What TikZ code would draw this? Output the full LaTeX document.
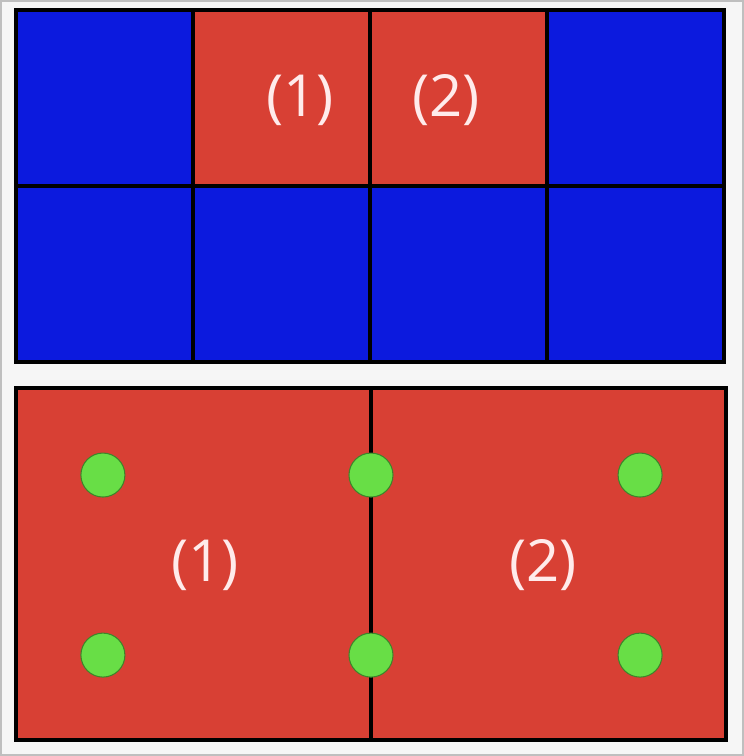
\documentclass[tikz,border=0pt]{standalone}
\usepackage{fontspec}
\setmainfont{Open Sans}
\definecolor{cellblue}{RGB}{12,26,222}
\definecolor{cellred}{RGB}{216,64,52}
\definecolor{dotgreen}{RGB}{104,222,70}
\definecolor{paper}{RGB}{246,246,246}
\begin{document}
\begin{tikzpicture}[x=0.02cm, y=-0.02cm,
			cell/.style = {draw=black, line width=2.2pt, inner sep=0pt,
				minimum width=3.54cm, minimum height=3.52cm},
			bigcell/.style = {cell, minimum width=7.1cm, minimum height=7.04cm},
			dot/.style = {circle, fill=dotgreen, draw=dotgreen!60!black, line width=0.6pt,
				inner sep=0pt, minimum size=0.88cm},
			label/.style = {text=white!92!red, font=\fontsize{33}{38}\selectfont}]
			
			\useasboundingbox[fill=paper, draw=black!25, line width=1pt] (1,1) rectangle (743,755);
			
			% top panel: 4 x 2 grid
			\node[cell, fill=cellblue] (t11) at (104.5,98) {};
			\node[cell, fill=cellred]  (t12) at (281.5,98) {};
			\node[cell, fill=cellred]  (t13) at (458.5,98) {};
			\node[cell, fill=cellblue] (t14) at (635.5,98) {};
			\foreach \i/\x in {1/104.5, 2/281.5, 3/458.5, 4/635.5}
				\node[cell, fill=cellblue] (t2\i) at (\x,274) {};
			\node[label] (ta) at (300,100) {(1)};
			\node[label] (tb) at (446,100) {(2)};
			
			% bottom panel: two elements
			\node[bigcell, fill=cellred] (b1) at (193.5,564) {};
			\node[bigcell, fill=cellred] (b2) at (548.5,564) {};
			\node[label] (ba) at (205,565) {(1)};
			\node[label] (bb) at (543,565) {(2)};
			
			% nodes
			\foreach \n/\x/\y in {d1/103/475, d2/371/475, d3/640/475,
				d4/103/655, d5/371/655, d6/640/655}
				\node[dot] (\n) at (\x,\y) {};
			\end{tikzpicture}
\end{document}
